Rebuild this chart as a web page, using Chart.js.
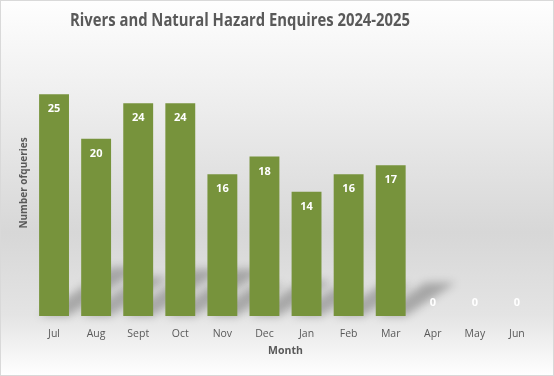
<!DOCTYPE html>
<html>
<head>
<meta charset="utf-8">
<script src="https://cdn.jsdelivr.net/npm/chart.js@4.4.1/dist/chart.umd.min.js"></script>
<style>
	html, body { margin: 0; padding: 0; background: #fff; }
	#wrap { width: 554px; height: 376px; position: relative; }
</style>
</head>
<body>
<div id="wrap"><canvas id="enquiryChart" width="554" height="376"></canvas></div>
<script>
var months = ["Jul", "Aug", "Sept", "Oct", "Nov", "Dec", "Jan", "Feb", "Mar", "Apr", "May", "Jun"];
var enquiries = [25, 20, 24, 24, 16, 18, 14, 16, 17, 0, 0, 0];
var chartTitle = "Rivers and Natural Hazard Enquires 2024-2025";
var yTitle = "Number ofqueries";
var xTitle = "Month";

var barColor = "#77933C";
var textColor = "#595959";

// background panel: grey gradient + border
var panelBg = {
	id: "panelBg",
	beforeDraw: function(chart){
		var ctx = chart.ctx, w = chart.width, h = chart.height;
		var grad = ctx.createLinearGradient(0, 0, 0, h);
		grad.addColorStop(0, "#fefefe");
		grad.addColorStop(0.25, "#efefef");
		grad.addColorStop(0.62, "#d7d7d7");
		grad.addColorStop(0.84, "#e4e4e4");
		grad.addColorStop(1, "#ffffff");
		ctx.save();
		ctx.fillStyle = grad;
		ctx.fillRect(0, 0, w, h);
		ctx.strokeStyle = "#d9d9d9";
		ctx.lineWidth = 1;
		ctx.strokeRect(0.5, 0.5, w - 1, h - 1);
		ctx.restore();
	}
};

// perspective floor shadows behind each bar
var barShadow = {
	id: "barShadow",
	beforeDatasetsDraw: function(chart){
		var ctx = chart.ctx;
		var meta = chart.getDatasetMeta(0);
		ctx.save();
		ctx.filter = "blur(4px)";
		ctx.fillStyle = "rgba(0,0,0,0.26)";
		meta.data.forEach(function(bar){
			var p = bar.getProps(["x", "y", "base", "width"], true);
			var h = p.base - p.y;
			if(h <= 0) return;
			var sh = h * 0.22, dx = sh * 1.5;
			var x0 = p.x - p.width / 2, x1 = p.x + p.width / 2;
			ctx.beginPath();
			ctx.moveTo(x0, p.base);
			ctx.lineTo(x0 + dx, p.base - sh);
			ctx.lineTo(x1 + dx, p.base - sh);
			ctx.lineTo(x1, p.base);
			ctx.closePath();
			ctx.fill();
		});
		ctx.restore();
	}
};

// value labels inside bar tops, title text
var barLabels = {
	id: "barLabels",
	afterDatasetsDraw: function(chart){
		var ctx = chart.ctx;
		var meta = chart.getDatasetMeta(0);
		ctx.save();
		ctx.fillStyle = "#ffffff";
		ctx.font = "bold 11px 'Open Sans', sans-serif";
		ctx.textAlign = "center";
		ctx.textBaseline = "middle";
		meta.data.forEach(function(bar, i){
			var v = enquiries[i];
			var ly = v > 0 ? bar.y + 15 : bar.base - 13;
			ctx.fillText(String(v), bar.x, ly);
		});

		// title, squeezed to Calibri-like width
		ctx.fillStyle = textColor;
		ctx.font = "bold 18px 'Open Sans', sans-serif";
		var tw = ctx.measureText(chartTitle).width;
		var target = 340;
		ctx.translate(240, 21);
		ctx.scale(Math.min(1, target / tw), 1);
		ctx.fillText(chartTitle, 0, 0);
		ctx.restore();
	}
};

new Chart(document.getElementById("enquiryChart"), {
	type: "bar",
	data: {
		labels: months,
		datasets: [{
			data: enquiries,
			backgroundColor: barColor,
			borderWidth: 0,
			categoryPercentage: 1,
			barPercentage: 0.71
		}]
	},
	options: {
		responsive: false,
		animation: false,
		layout: {padding: {top: 50, right: 16, bottom: 19, left: 0}},
		plugins: {
			legend: {display: false},
			tooltip: {enabled: false},
			title: {display: false}
		},
		scales: {
			x: {
				grid: {display: false},
				border: {display: false},
				ticks: {color: textColor, padding: 4, font: {family: "'Open Sans', sans-serif", size: 10.5}},
				title: {display: true, text: xTitle, color: textColor, padding: {top: 3, bottom: 0}, font: {family: "'Open Sans', sans-serif", size: 10.5, weight: "bold"}},
				afterFit: function(scale){ scale.height = 41; }
			},
			y: {
				min: 0,
				max: 30,
				grid: {display: false},
				border: {display: false},
				ticks: {display: false},
				title: {display: true, text: yTitle, color: textColor, padding: {top: 18, bottom: 0}, font: {family: "'Open Sans', sans-serif", size: 10, weight: "bold"}},
				afterFit: function(scale){ scale.width = 33; }
			}
		}
	},
	plugins: [panelBg, barShadow, barLabels]
});
</script>
</body>
</html>
